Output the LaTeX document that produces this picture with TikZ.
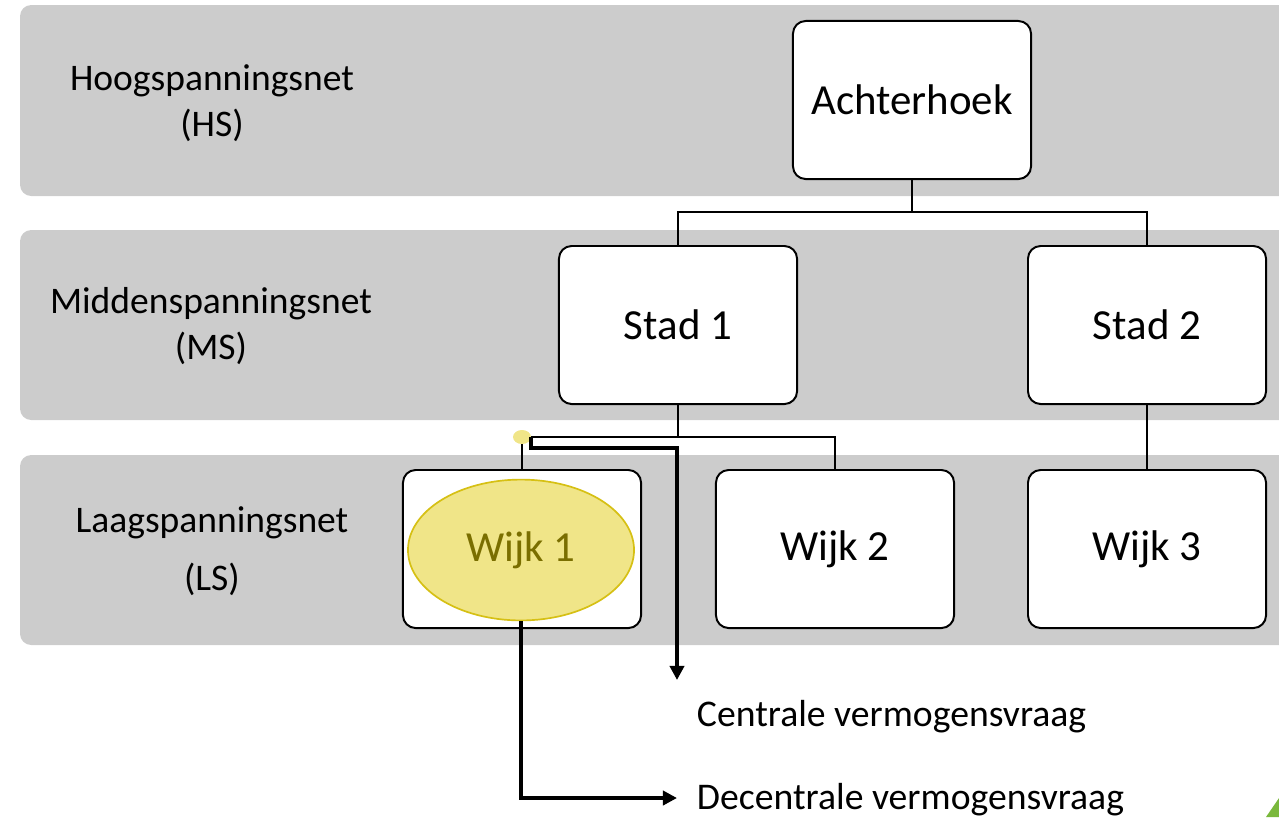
\documentclass[tikz,border=0pt]{standalone}
\usepackage{fontspec}
\setmainfont{Carlito}
\usetikzlibrary{arrows.meta,shapes.geometric}
\definecolor{bandgray}{RGB}{204,204,204}
\definecolor{wijkfill}{RGB}{240,229,136}
\definecolor{wijkline}{RGB}{214,192,20}
\definecolor{wijktext}{RGB}{122,110,0}
\definecolor{cornergreen}{RGB}{122,184,60}

\begin{document}
\begin{tikzpicture}
    [x=0.025cm, y=-0.025cm,
     band/.style={fill=bandgray, rounded corners=8pt},
     level/.style={align=center, font=\fontsize{26.7}{33}\selectfont},
     unit/.style={draw, line width=1.4pt, fill=white, rounded corners=9pt,
       minimum width=5.95cm, minimum height=3.95cm, font=\fontsize{30.5}{36}\selectfont},
     hotspot/.style={ellipse, draw=wijkline, line width=1.2pt, fill=wijkfill,
       text=wijktext, inner sep=0pt, minimum width=5.65cm, minimum height=3.52cm,
       font=\fontsize{30.5}{36}\selectfont},
     knotdot/.style={ellipse, fill=wijkfill, inner sep=0pt,
       minimum width=0.45cm, minimum height=0.35cm},
     link/.style={line width=1.4pt},
     flow/.style={line width=2.8pt, -{Triangle[length=10pt, width=10pt]}},
     demand/.style={anchor=west, font=\fontsize{26.8}{32}\selectfont}]
    \clip (0,0) rectangle (1279,817);
    % Bands
    \fill[band] (20,5) rectangle (1300,196);
    \fill[band] (20,230) rectangle (1300,420);
    \fill[band] (20,455) rectangle (1300,645);
    % level labels
    \node[level] (hs) at (212,103) {Hoogspanningsnet\\(HS)};
    \node[level] (ms) at (211,326) {Middenspanningsnet\\(MS)};
    \node[level] (ls) at (212,551) {Laagspanningsnet\\[8pt](LS)};
    % units
    \node[unit] (achterhoek) at (912,100) {Achterhoek};
    \node[unit] (stad1) at (678,325) {Stad 1};
    \node[unit] (stad2) at (1147,325) {Stad 2};
    \node[unit] (wijk1) at (522,549) {};
    \node[unit] (wijk2) at (835,549) {Wijk 2};
    \node[unit] (wijk3) at (1147,549) {Wijk 3};
    \node[hotspot] (wijk1spot) at (521,550) {Wijk 1};
    % tree lines
    \draw[link] (achterhoek.south) -- ++(0,32) -| (stad1.north);
    \draw[link] (achterhoek.south) -- ++(0,32) -| (stad2.north);
    \draw[link] (stad1.south) -- ++(0,32) -| (wijk1.north);
    \draw[link] (stad1.south) -- ++(0,32) -| (wijk2.north);
    \draw[link] (stad2) -- (wijk3);
    \node[knotdot] (knot) at (522,437) {};
    % demand arrows
    \coordinate (cv) at (677,680);
    \coordinate (dv) at (677,798);
    \node[demand] (central) at (692,717) {Centrale vermogensvraag};
    \node[demand] (decentral) at (692,800) {Decentrale vermogensvraag};
    \draw[flow] (knot.east) -- ++(0,11) -| (cv);
    \draw[flow] (wijk1spot.south) |- (dv);
    % corner
    \fill[cornergreen] (1266,817) -- (1279,798) -- (1279,817) -- cycle;
\end{tikzpicture}
\end{document}
